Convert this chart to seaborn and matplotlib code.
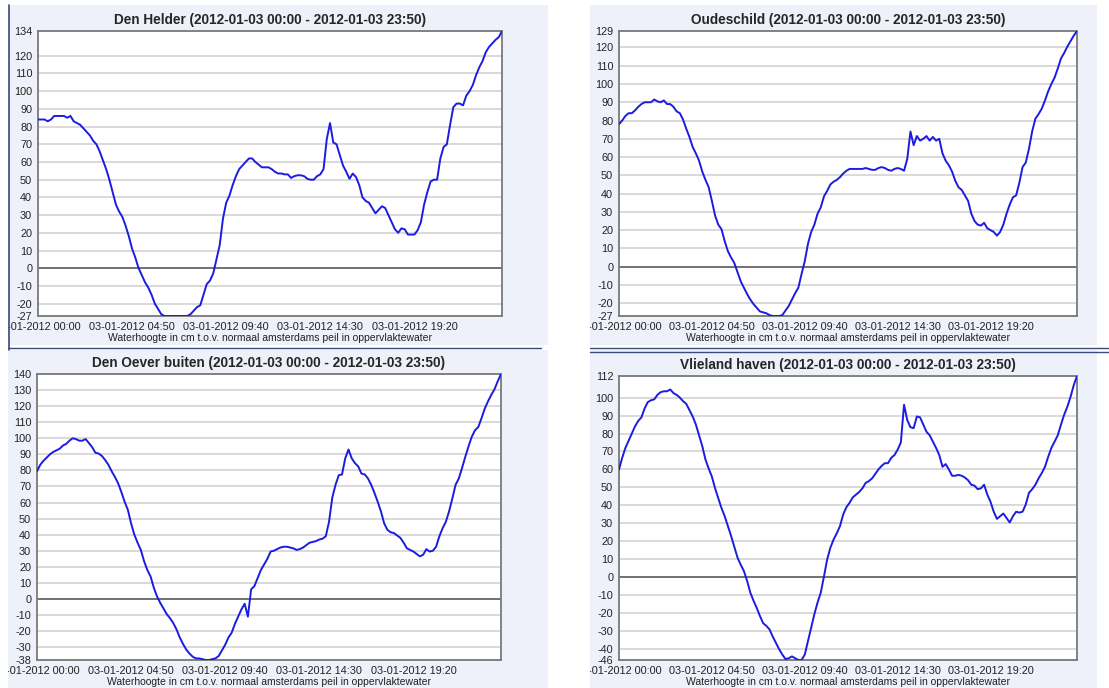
import numpy as np
import pandas as pd
import matplotlib
matplotlib.use("Agg")
import matplotlib.pyplot as plt
from matplotlib.patches import Rectangle
from matplotlib.lines import Line2D
import seaborn as sns

# ---------------------------------------------------------------- data
stations = ["Den Helder", "Oudeschild", "Den Oever buiten", "Vlieland haven"]
period = "(2012-01-03 00:00 - 2012-01-03 23:50)"
tick_date = "03-01-2012"
tick_times = ["00:00", "04:50", "09:40", "14:30", "19:20"]
x_label = "Waterhoogte in cm t.o.v. normaal amsterdams peil in oppervlaktewater"

# one measurement every 10 minutes, 00:00 .. 23:50
minutes = np.arange(0, 1440, 10)

den_helder = [
    84, 84, 84, 83, 84, 86, 86, 86, 86, 85,
    86, 83, 82, 81, 79, 77, 75, 72, 70, 66,
    61, 56, 50, 43, 36, 32, 29, 24, 18, 11,
    6, 0, -4, -8, -11, -15, -20, -23, -26, -27,
    -27, -27, -27, -27, -27, -27, -27, -26, -24, -22,
    -21, -15, -9, -7, -3, 5, 13, 28, 37, 41,
    47, 52, 56, 58, 60, 62, 62, 60, 58.5, 57,
    57, 57, 56, 54.5, 53.5, 53.5, 53, 53, 51, 52,
    52.5, 52.5, 52, 50.5, 50, 50, 52, 53, 56, 73,
    82, 71, 70, 64, 58, 54.5, 50.5, 53.5, 51.5, 47,
    40, 38, 37, 34, 31, 33, 35, 34, 30, 26,
    22, 20, 22.5, 22, 19, 19, 19, 21.5, 26, 36,
    43, 49, 50, 50, 62, 68.5, 70, 81, 91, 93,
    93, 92, 97.5, 100, 103.5, 109, 113.5, 117, 122, 125,
    127, 129, 130.5, 134,
]

oudeschild = [
    78, 80, 82.5, 84, 84, 85.5, 87.5, 89, 90, 90,
    90, 91.5, 90.5, 90, 91, 89, 89, 87.5, 85, 84,
    80.5, 75.5, 71, 65.5, 62, 58, 52, 47.5, 43.5, 36,
    28, 23, 20.5, 14, 8.5, 5, 2, -3, -8, -11.5,
    -15, -18, -20.5, -22.5, -24.5, -25, -25.5, -26.5, -27, -27,
    -27, -26.5, -24, -21.5, -18, -14.5, -11.5, -4, 3, 12.5,
    19, 23, 29, 32.5, 38.5, 41.5, 45, 46.5, 47.5, 49,
    51, 52.5, 53.5, 53.5, 53.5, 53.5, 53.5, 54, 53.5, 53,
    53, 54, 54.5, 54, 53, 52.5, 53.5, 54, 53.5, 52.5,
    59, 74, 66.5, 71.5, 69, 70, 71.5, 69, 71, 69,
    70, 62, 58, 55.5, 52, 47, 43.5, 42, 39, 36,
    29, 25, 23, 22.5, 24, 21, 20, 19, 17, 19,
    23, 29, 34, 38, 39, 46, 54.5, 57, 64.5, 74,
    81, 83.5, 86.5, 91, 96, 100, 103.5, 108.5, 114, 117,
    120.5, 123.5, 126.5, 129,
]

den_oever = [
    79.5, 83.5, 86, 88, 90, 91.5, 92.5, 93.5, 95.5, 96.5,
    98.5, 100, 99.5, 98.5, 98.5, 99.5, 97, 94.5, 91, 90.5,
    89, 86.5, 83.5, 79.5, 76, 72, 66.5, 60.5, 55.5, 47,
    40, 35, 30.5, 23.5, 18, 14, 7, 1.5, -2.5, -6,
    -9.5, -12, -15, -19, -24, -28, -31.5, -34, -36, -37,
    -37, -37.5, -38, -38, -37.5, -37, -35.5, -32, -28.5, -24,
    -21, -15.5, -11, -6.5, -3, -11, 6, 8, 13, 18,
    21.5, 25, 29.5, 30, 31, 32, 32.5, 32.5, 32, 31.5,
    30.5, 31, 32, 33.5, 35, 35.5, 36, 37, 37.5, 39,
    48, 63, 71, 77, 77.5, 87.5, 93, 87.5, 84.5, 82.5,
    78, 77.5, 75, 71, 66, 60.5, 54.5, 47, 43, 41.5,
    41, 39.5, 38, 35, 31.5, 30.5, 29.5, 28, 26.5, 27.5,
    31, 29.5, 30, 32.5, 39, 44, 48, 54.5, 62.5, 71,
    75, 81.5, 88.5, 95, 101, 105, 107, 112.5, 118.5, 123,
    127, 130.5, 135.5, 140,
]

vlieland = [
    60, 66.5, 72, 76, 80, 84, 87, 89, 94, 97.5,
    98.5, 99, 101.5, 103, 103.5, 103.5, 104.5, 102.5, 101.5, 100,
    98, 96.5, 93, 89.5, 85, 79, 73, 65.5, 60.5, 56,
    49.5, 44, 38.5, 34, 28.5, 23, 17, 11, 7, 3.5,
    -2, -8.5, -13, -17, -21.5, -25.5, -27, -29, -33, -36.5,
    -40, -43, -45.5, -45, -44, -45, -46, -46, -43, -35.5,
    -28, -20.5, -14, -8.5, 0.5, 10, 16.5, 21, 24.5, 28.5,
    35, 39, 41.5, 44.5, 46, 47.5, 49.5, 52.5, 53.5, 55,
    57.5, 60, 62, 63.5, 63.5, 66.5, 68, 71, 75, 96,
    87.5, 83.5, 83, 89.5, 89, 85, 81, 79, 75.5, 72,
    68, 61.5, 63, 60, 56.5, 56.5, 57, 56.5, 55.5, 54,
    51.5, 51, 49, 49.5, 51.5, 46, 42, 36.5, 32.5, 34,
    35.5, 33, 30.5, 34, 36.5, 36, 36.5, 40.5, 47, 49,
    51.5, 55, 58, 61.5, 67, 72, 75.5, 79, 85, 90.5,
    95, 100.5, 107, 112,
]

series = [den_helder, oudeschild, den_oever, vlieland]

# ---------------------------------------------------------------- style
sns.set_style("white")
plt.rcParams["font.family"] = ["Liberation Sans", "DejaVu Sans"]

PANEL_BG = "#eef0fa"
LINE = "#1c1ce0"
GRID = "#d0d0d0"
ZERO = "#555555"
FRAME = "#7a7a7a"
EDGE = "#3c4a78"

W, H = 1109, 688
fig = plt.figure(figsize=(W / 100, H / 100), dpi=100, facecolor="white")


def fig_rect(x0, y0, x1, y1):
    """Pixel box (top-left origin) -> figure-fraction [left, bottom, width, height]."""
    return [x0 / W, 1 - y1 / H, (x1 - x0) / W, (y1 - y0) / H]


# background box of each chart window, and its plotting area (pixels)
layout = [
    ((8, 5, 548, 345), (38, 31, 502, 316)),
    ((590, 5, 1097, 345), (619, 31, 1077, 316)),
    ((8, 350, 548, 688), (37, 374, 501, 660)),
    ((590, 350, 1097, 688), (619, 376, 1077, 660)),
]

tick_minutes = [int(t[:2]) * 60 + int(t[3:]) for t in tick_times]
tick_labels = [f"{tick_date} {t}" for t in tick_times]

for name, values, (bg, box) in zip(stations, series, layout):
    l, b, w, h = fig_rect(*bg)
    fig.patches.append(Rectangle((l, b), w, h, transform=fig.transFigure,
                                 facecolor=PANEL_BG, edgecolor="none", zorder=-5))

    ax = fig.add_axes(fig_rect(*box))
    ax.set_facecolor("white")
    df = pd.DataFrame({"minuut": minutes, "waterhoogte": values})
    sns.lineplot(data=df, x="minuut", y="waterhoogte", ax=ax,
                 color=LINE, linewidth=1.4, zorder=4)

    lo, hi = min(values), max(values)
    ax.set_xlim(minutes[0], minutes[-1])
    ax.set_ylim(lo, hi)

    inner = [v for v in range(int(np.ceil(lo / 10)) * 10, int(hi) + 1, 10)
             if v - lo >= 5 and hi - v >= 5]
    yticks = [lo] + inner + [hi]
    ax.set_yticks(yticks)
    ax.set_yticklabels([f"{v:g}" for v in yticks])
    ax.grid(axis="y", color=GRID, linewidth=1.1, zorder=1)
    ax.grid(axis="x", visible=False)
    ax.axhline(0, color=ZERO, linewidth=1.1, zorder=2)

    ax.set_xticks(tick_minutes)
    ax.set_xticklabels(tick_labels)
    ax.set_xlabel(x_label, fontsize=7.5, labelpad=0.5, color="#222222")
    ax.set_ylabel("")
    ax.set_title(f"{name} {period}", fontsize=9.8, fontweight="bold", pad=5)

    for sp in ax.spines.values():
        sp.set_visible(True)
        sp.set_color(FRAME)
        sp.set_linewidth(1.3)
    ax.tick_params(axis="both", direction="out", length=3, width=0.9,
                   color="#555555", labelsize=7.8, pad=1.2, labelcolor="#222222")

# white margins that cut the tick labels at the window edges
for x0, x1 in [(0, 8), (548, 590)]:
    fig.patches.append(Rectangle((x0 / W, 0), (x1 - x0) / W, 1,
                                 transform=fig.transFigure, facecolor="white",
                                 edgecolor="none", zorder=10))

# window borders
fig.lines.append(Line2D([8.5 / W, 8.5 / W], [1 - 5 / H, 1 - 350 / H],
                        transform=fig.transFigure, color=EDGE, lw=1.2, zorder=11))
fig.lines.append(Line2D([8 / W, 541 / W], [1 - 348.5 / H, 1 - 348.5 / H],
                        transform=fig.transFigure, color=EDGE, lw=1.0, zorder=11))
for yy in (348.5, 351.5):
    fig.lines.append(Line2D([590 / W, 1.0], [1 - yy / H, 1 - yy / H],
                            transform=fig.transFigure, color=EDGE, lw=1.0, zorder=11))

fig.savefig("out.png", dpi=100, facecolor="white")
